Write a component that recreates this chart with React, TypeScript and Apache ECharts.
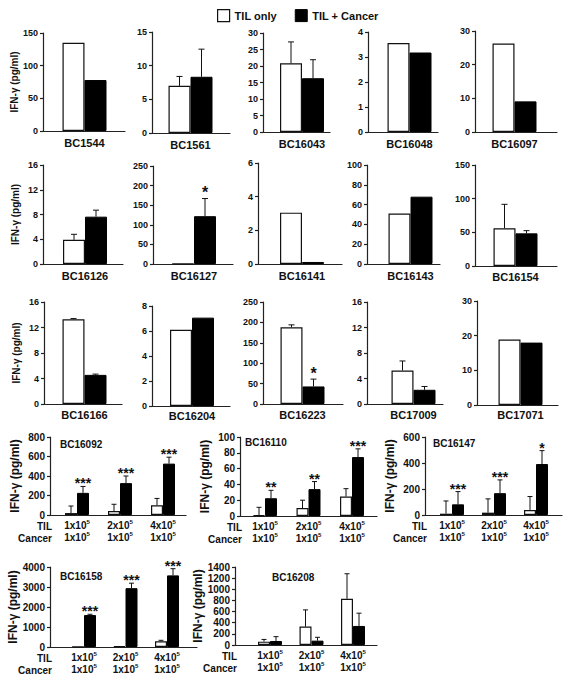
import React, { useEffect, useRef } from 'react';
import * as echarts from 'echarts';

const FONT = '"Liberation Sans", Arial, Helvetica, sans-serif';
const INK = '#111';

// ---------- single-donor panels (rows 1-3) ----------
const topNames = [
  'BC1544', 'BC1561', 'BC16043', 'BC16048', 'BC16097',
  'BC16126', 'BC16127', 'BC16141', 'BC16143', 'BC16154',
  'BC16166', 'BC16204', 'BC16223', 'BC17009', 'BC17071',
];
const topMax = [150, 15, 30, 4, 30, 16, 250, 6, 100, 150, 16, 8, 250, 16, 30];
const topInterval = [50, 5, 5, 1, 10, 4, 50, 2, 20, 50, 4, 2, 50, 4, 10];
const topTilOnly = [135, 7.0, 20.8, 3.56, 26.3, 3.9, 1, 3.05, 51, 56, 13.3, 6.1, 188, 5.25, 18.9];
const topTilOnlySD = [0, 1.4, 6.5, 0, 0, 0.9, 0, 0, 0, 35.6, 0.1, 0, 6, 1.5, 0];
const topTilCancer = [78, 8.35, 16.3, 3.18, 9.1, 7.65, 122, 0.12, 68, 48.5, 4.57, 7.07, 43, 2.23, 18.0];
const topTilCancerSD = [0, 4.1, 5.6, 0, 0, 1.05, 45, 0, 0, 4, 0.12, 0, 18, 0.52, 0];
const topTilCancerStars = ['', '', '', '', '', '', '*', '', '', '', '', '', '*', '', ''];

// ---------- dose panels (rows 4-5) ----------
const doseNames = ['BC16092', 'BC16110', 'BC16147', 'BC16158', 'BC16208'];
const doseLevels = [1, 2, 3];
const doseTilLabels = ['1x10', '2x10', '4x10'];
const doseCancerLabels = ['1x10', '1x10', '1x10'];
const doseExponent = '5';
const doseMax = [800, 100, 600, 4000, 1400];
const doseInterval = [200, 20, 200, 1000, 200];
const doseTilOnly = [[20, 40, 100], [1, 10, 24.6], [10, 18, 39], [10, 30, 285], [60, 330, 829]];
const doseTilOnlySD = [[72, 70, 70], [10, 10, 10], [98, 106, 103], [0, 0, 50], [40, 300, 450]];
const doseTilCancer = [[227, 327, 527], [22.5, 34, 74.6], [82, 168, 392], [1597, 2941, 3580], [72, 78, 342]];
const doseTilCancerSD = [[66, 73, 66], [10, 9.6, 10.4], [98, 102, 103], [40, 250, 335], [78, 60, 229]];
const doseStars = [
  ['***', '***', '***'],
  ['**', '**', '***'],
  ['***', '***', '*'],
  ['***', '***', '***'],
  ['', '', ''],
];

// ---------- layout (pixels) ----------
// [axisLeft, axisEnd, barCenter, top, bottom, labelMargin]
const topLayout = [
  [43, 125, 84.5, 33, 131, 6], [152, 230, 190.5, 32, 133, 6], [263, 330, 302, 33, 132, 6],
  [368, 438, 409.5, 32, 132, 6], [475, 557, 514.5, 31, 132, 6],
  [43, 123, 85, 165, 264, 6], [153, 233, 194, 166, 264, 6], [258, 342, 302, 163, 264, 6],
  [367, 440, 410.5, 165, 264, 6], [475, 557, 515.5, 165, 266, 5],
  [44, 122, 84.5, 302, 404, 5], [152, 230, 192, 306, 406, 4], [263, 343, 302.5, 302, 404, 5],
  [367, 443, 413.5, 302, 404, 5], [477, 558, 520.5, 301, 405, 4],
];
// [axisLeft, axisEnd, x of level 1, px per level, top, bottom, titleDx, titleDy]
const doseLayout = [
  [50, 186, 77, 43, 437, 515, 10, 7],
  [240, 377, 265, 43.5, 437, 516, 5, 5],
  [425, 562, 452, 42, 437, 515, 8, 6],
  [50, 197, 84, 41.5, 567, 647, 10, 9],
  [235, 377, 270, 41.5, 567, 645, 37, 10],
];

const plain = (v: number) => String(v);

const makeErrorRenderer = (offset: number, capHalf: number, stars: string[], starFont: number, starLift: number) =>
  (params: any, api: any) => {
    const x = api.value(0);
    const m = api.value(1);
    const sd = api.value(2);
    const p0 = api.coord([x, m]);
    const p1 = api.coord([x, m + (sd > 0 ? sd : 0)]);
    const cx = p0[0] + offset;
    const children: any[] = [];
    if (sd > 0) {
      children.push({ type: 'line', shape: { x1: cx, y1: p0[1], x2: cx, y2: p1[1] }, style: { stroke: INK, lineWidth: 1 } });
      children.push({ type: 'line', shape: { x1: cx - capHalf, y1: p1[1], x2: cx + capHalf, y2: p1[1] }, style: { stroke: INK, lineWidth: 1 } });
    }
    const s = stars[params.dataIndex];
    if (s) {
      children.push({
        type: 'text',
        x: cx,
        y: p1[1] - starLift,
        style: {
          text: s, fill: INK, font: `bold ${starFont}px ${FONT}`,
          align: 'center', verticalAlign: 'middle', textAlign: 'center', textVerticalAlign: 'middle',
        },
      });
    }
    return { type: 'group', children };
  };

function buildOption() {
  const grids: any[] = [];
  const xAxes: any[] = [];
  const yAxes: any[] = [];
  const series: any[] = [];
  const graphics: any[] = [];
  const axisLine = { show: true, onZero: false, lineStyle: { color: '#222', width: 1.2 } };
  const whiteStyle = { color: '#fff', borderColor: INK, borderWidth: 1.2 };
  const blackStyle = { color: '#000', borderColor: '#000', borderWidth: 1 };

  topNames.forEach((name, i) => {
    const [l, e, c, t, b, lm] = topLayout[i];
    grids.push({ left: l, top: t, width: e - l, height: b - t });
    xAxes.push({
      gridIndex: i, type: 'value', min: l - c, max: e - c,
      axisLine, axisTick: { show: false }, splitLine: { show: false },
      axisLabel: {
        customValues: [0], formatter: () => name, margin: lm,
        fontFamily: FONT, fontWeight: 'bold', fontSize: 11, color: INK,
      },
    });
    yAxes.push({
      gridIndex: i, type: 'value', min: 0, max: topMax[i], interval: topInterval[i],
      axisLine, axisTick: { show: true, length: 3, lineStyle: { color: '#222', width: 1.2 } },
      splitLine: { show: false },
      axisLabel: { margin: 5, formatter: plain, fontFamily: FONT, fontWeight: 'bold', fontSize: 9, color: INK },
      name: i % 5 === 0 ? 'IFN-γ (pg/ml)' : '',
      nameLocation: 'middle', nameGap: 23, nameRotate: 90,
      nameTextStyle: { fontFamily: FONT, fontWeight: 'bold', fontSize: 10, color: INK },
    });
    series.push({
      type: 'bar', name: 'TIL only', xAxisIndex: i, yAxisIndex: i, silent: true,
      data: [[0, topTilOnly[i]]], barWidth: 22, barGap: '0%', itemStyle: whiteStyle,
    });
    series.push({
      type: 'bar', name: 'TIL + Cancer', xAxisIndex: i, yAxisIndex: i, silent: true,
      data: [[0, topTilCancer[i]]], barWidth: 22, barGap: '0%', itemStyle: blackStyle,
    });
    series.push({
      type: 'custom', xAxisIndex: i, yAxisIndex: i, silent: true, z: 5,
      encode: { x: 0, y: 1 },
      data: [[0, topTilOnly[i], topTilOnlySD[i]]],
      renderItem: makeErrorRenderer(-11, 3, [''], 16, 6),
    });
    series.push({
      type: 'custom', xAxisIndex: i, yAxisIndex: i, silent: true, z: 5,
      encode: { x: 0, y: 1 },
      data: [[0, topTilCancer[i], topTilCancerSD[i]]],
      renderItem: makeErrorRenderer(11, 3, [topTilCancerStars[i]], 16, 6),
    });
  });

  doseNames.forEach((name, k) => {
    const i = topNames.length + k;
    const [l, e, x1, dx, t, b, tdx, tdy] = doseLayout[k];
    grids.push({ left: l, top: t, width: e - l, height: b - t });
    xAxes.push({
      gridIndex: i, type: 'value', min: 1 - (x1 - l) / dx, max: 1 + (e - x1) / dx,
      axisLine, axisTick: { show: false }, splitLine: { show: false },
      axisLabel: {
        customValues: doseLevels, margin: 4,
        formatter: (v: number) => {
          const j = doseLevels.indexOf(v);
          return `{a|${doseTilLabels[j]}}{s|${doseExponent}}\n{a|${doseCancerLabels[j]}}{s|${doseExponent}}`;
        },
        rich: {
          a: { fontFamily: FONT, fontWeight: 'bold', fontSize: 10, lineHeight: 12, color: INK },
          s: { fontFamily: FONT, fontWeight: 'bold', fontSize: 6, lineHeight: 7, verticalAlign: 'top', color: INK },
        },
      },
    });
    yAxes.push({
      gridIndex: i, type: 'value', min: 0, max: doseMax[k], interval: doseInterval[k],
      axisLine, axisTick: { show: true, length: 3, lineStyle: { color: '#222', width: 1.2 } },
      splitLine: { show: false },
      axisLabel: { margin: 5, formatter: plain, fontFamily: FONT, fontWeight: 'bold', fontSize: 10, color: INK },
      name: 'IFN-γ (pg/ml)', nameLocation: 'middle', nameGap: 29, nameRotate: 90,
      nameTextStyle: { fontFamily: FONT, fontWeight: 'bold', fontSize: 12, color: INK },
    });
    series.push({
      type: 'bar', name: 'TIL only', xAxisIndex: i, yAxisIndex: i, silent: true,
      data: doseLevels.map((v, j) => [v, doseTilOnly[k][j]]), barWidth: 12, barGap: '0%', itemStyle: whiteStyle,
    });
    series.push({
      type: 'bar', name: 'TIL + Cancer', xAxisIndex: i, yAxisIndex: i, silent: true,
      data: doseLevels.map((v, j) => [v, doseTilCancer[k][j]]), barWidth: 12, barGap: '0%', itemStyle: blackStyle,
    });
    series.push({
      type: 'custom', xAxisIndex: i, yAxisIndex: i, silent: true, z: 5,
      encode: { x: 0, y: 1 },
      data: doseLevels.map((v, j) => [v, doseTilOnly[k][j], doseTilOnlySD[k][j]]),
      renderItem: makeErrorRenderer(-6, 2.5, ['', '', ''], 14, 3),
    });
    series.push({
      type: 'custom', xAxisIndex: i, yAxisIndex: i, silent: true, z: 5,
      encode: { x: 0, y: 1 },
      data: doseLevels.map((v, j) => [v, doseTilCancer[k][j], doseTilCancerSD[k][j]]),
      renderItem: makeErrorRenderer(6, 2.5, doseStars[k], 14, 3),
    });
    graphics.push({
      type: 'text', left: l + tdx, top: t + tdy - 5,
      style: { text: name, font: `bold 10px ${FONT}`, fill: INK },
    });
    graphics.push({
      type: 'text', x: l + 2, y: b + 11,
      style: { text: 'TIL', font: `bold 10px ${FONT}`, fill: INK, align: 'right', verticalAlign: 'middle', textAlign: 'right', textVerticalAlign: 'middle' },
    });
    graphics.push({
      type: 'text', x: l + 2, y: b + 23,
      style: { text: 'Cancer', font: `bold 10px ${FONT}`, fill: INK, align: 'right', verticalAlign: 'middle', textAlign: 'right', textVerticalAlign: 'middle' },
    });
  });

  return {
    animation: false,
    backgroundColor: '#fff',
    legend: {
      left: 217, top: 9, itemWidth: 12, itemHeight: 12, itemGap: 18, icon: 'rect',
      selectedMode: false, padding: 0,
      textStyle: { fontFamily: FONT, fontWeight: 'bold', fontSize: 11, color: INK },
      data: [
        { name: 'TIL only', itemStyle: { color: '#fff', borderColor: INK, borderWidth: 1.2 } },
        { name: 'TIL + Cancer', itemStyle: { color: '#000', borderColor: '#000', borderWidth: 1 } },
      ],
    },
    grid: grids,
    xAxis: xAxes,
    yAxis: yAxes,
    series,
    graphic: graphics,
  };
}

export default function App() {
  const ref = useRef<HTMLDivElement>(null);
  useEffect(() => {
    if (!ref.current) return;
    const chart = echarts.init(ref.current, undefined, { renderer: 'svg' });
    chart.setOption(buildOption() as any);
    return () => chart.dispose();
  }, []);
  return (
    <div
      ref={ref}
      style={{ position: 'fixed', left: 0, top: 0, width: 571, height: 679, background: '#fff' }}
    />
  );
}
